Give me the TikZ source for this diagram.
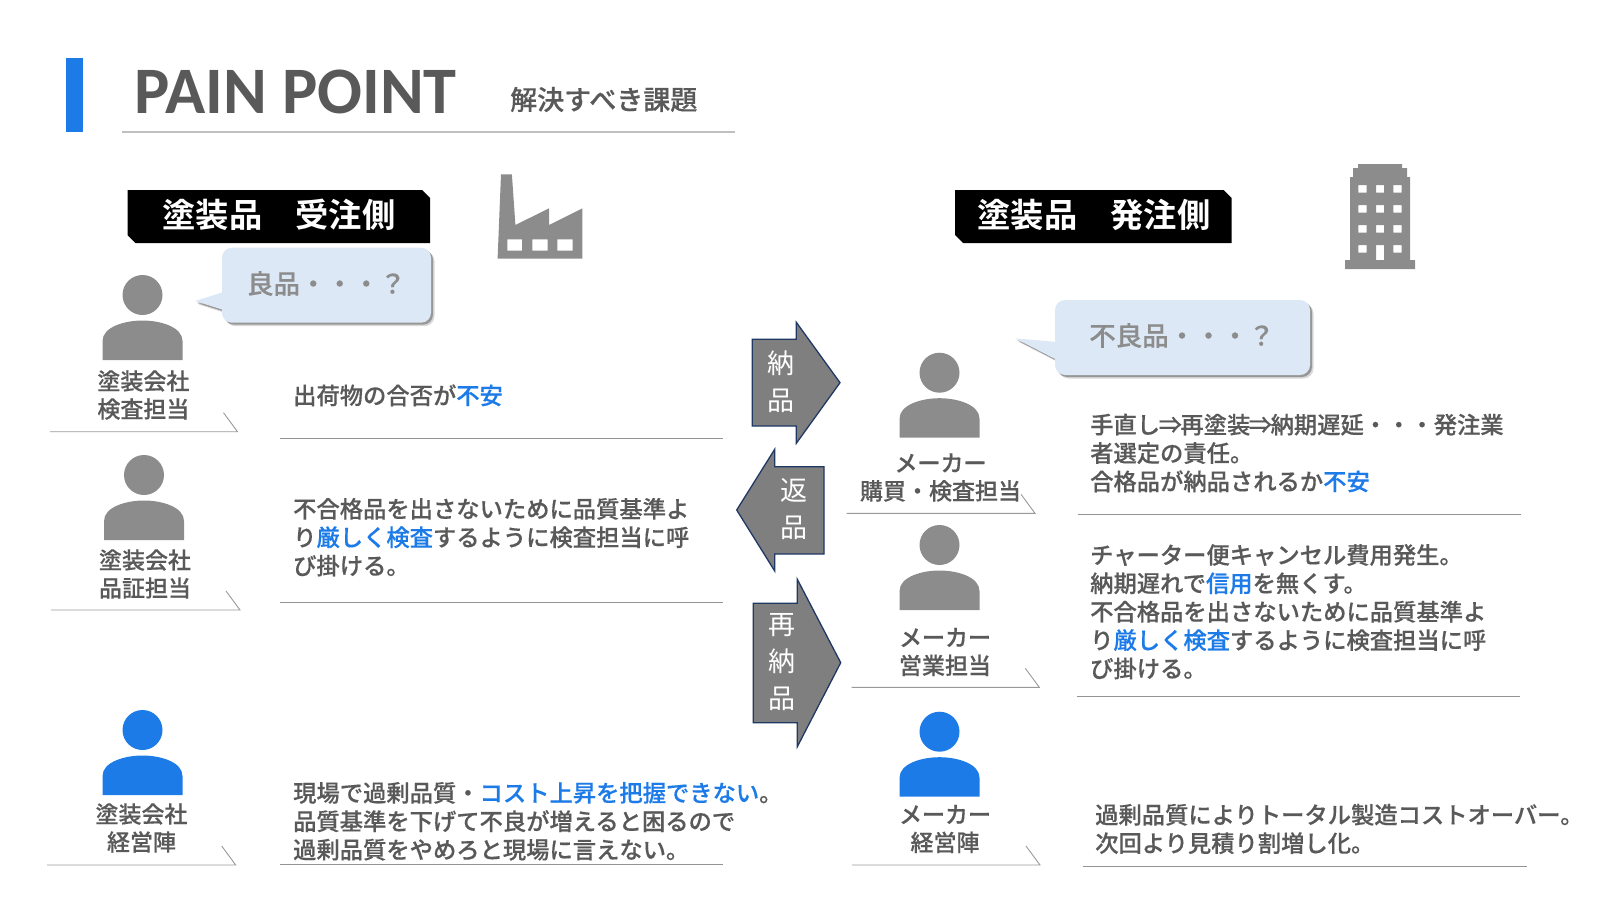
\documentclass[tikz,border=0pt]{standalone}
\usepackage{fontspec}
\usepackage{xcolor}
\usetikzlibrary{shadows}
\setmainfont{Noto Sans CJK JP Medium}[FakeBold=0.35]
\newfontfamily\jpreg{Noto Sans CJK JP}
\newfontfamily\jpbold{Noto Sans CJK JP Bold}
\newfontfamily\titlefont{Carlito Bold}
\definecolor{cBlue}{RGB}{29,123,232}
\definecolor{cText}{RGB}{89,89,89}
\definecolor{cIcon}{RGB}{140,140,140}
\definecolor{cCall}{RGB}{220,232,245}
\definecolor{cArrow}{RGB}{127,127,127}
\definecolor{cEdge}{RGB}{32,56,100}
\newcommand{\hl}[1]{{\color{cBlue}#1}}
\newcommand{\person}[3]{%
\fill[#3] (#1,#2+20) circle[radius=20];
\fill[#3] (#1-40,#2+85) -- (#1-40,#2+66) .. controls (#1-40,#2+52) and (#1-18,#2+45.5) .. (#1,#2+45.5) .. controls (#1+18,#2+45.5) and (#1+40,#2+52) .. (#1+40,#2+66) -- (#1+40,#2+85) -- cycle;
}
\newcommand{\tagline}[3]{%
\draw[gray!80,line width=0.9pt] (#1,#3) -- (#2,#3) -- (#2-14,#3-19);
}
\tikzset{
banner/.style={fill=black},
bannertext/.style={text=white,font=\jpbold\fontsize{33.3}{33.3}\selectfont,inner sep=0},
role/.style={text=cText,align=center,inner sep=0,font=\fontsize{23}{28}\selectfont},
body/.style={text=cText,align=left,anchor=west,inner sep=0,font=\fontsize{23.3}{28.4}\selectfont},
rule/.style={draw=gray!85,line width=1pt},
callbox/.style={fill=cCall,drop shadow={shadow xshift=3.5pt,shadow yshift=-3.5pt,fill=black,opacity=.15},drop shadow={shadow xshift=2pt,shadow yshift=-2pt,fill=black,opacity=.3}},
calltext/.style={text=cIcon,inner sep=0,font=\fontsize{26.5}{26.5}\selectfont},
flow/.style={fill=cArrow,draw=cEdge,line width=1.3pt,line join=miter},
flowtext/.style={text=white,align=center,inner sep=0,font=\jpreg\fontsize{27}{36.6}\selectfont}
}
\begin{document}
\begin{tikzpicture}[x=1pt,y=-1pt]
\useasboundingbox (0,0) rectangle (1600,900);
\fill[cBlue] (66,58) rectangle (83,132);
\node[anchor=west,inner sep=0,text=cText,font=\titlefont\fontsize{66.4}{66.4}\selectfont] (title) at (134.5,92) {PAIN POINT};
\node[anchor=west,inner sep=0,text=cText,font=\fontsize{27}{27}\selectfont] (subtitle) at (510,99.5) {解決すべき課題};
\draw[gray!50,line width=1.6pt] (122,132) -- (735,132);

\fill[banner] (127.5,190) -- (422,190) -- (430,198) -- (430,243) -- (135.5,243) -- (127.5,235) -- cycle;
\node[bannertext] (order) at (279,214.5) {塗装品　受注側};
\fill[banner] (955,190) -- (1223.5,190) -- (1231.5,198) -- (1231.5,243) -- (963,243) -- (955,235) -- cycle;
\node[bannertext] (buy) at (1094,214.5) {塗装品　発注側};

\fill[cIcon,even odd rule] (497.6,258.7) -- (501,174.3) -- (511.9,174.3) -- (515.4,225) -- (549,208.3) -- (549,225) -- (582.4,208.3) -- (582.4,258.7) -- cycle
(507.4,239.3) rectangle (522,250.7) (532.4,239.3) rectangle (547.6,250.7) (557.4,239.3) rectangle (572.6,250.7);
\fill[cIcon,even odd rule] (1345,269) -- (1345,260) -- (1350,260) -- (1350,177) -- (1353,177) -- (1353,168) -- (1358,168) -- (1358,164) -- (1402,164) -- (1402,168) -- (1407,168) -- (1407,177) -- (1410,177) -- (1410,260) -- (1415,260) -- (1415,269) -- cycle
(1358.3,185) rectangle (1366.7,192.7) (1376,185) rectangle (1384,192.7) (1393.3,185) rectangle (1401.7,192.7)
(1358.3,205) rectangle (1366.7,212.7) (1376,205) rectangle (1384,212.7) (1393.3,205) rectangle (1401.7,212.7)
(1358.3,225) rectangle (1366.7,232.7) (1376,225) rectangle (1384,232.7) (1393.3,225) rectangle (1401.7,232.7)
(1358.3,245) rectangle (1366.7,252.7) (1376,245) rectangle (1384,260) (1393.3,245) rectangle (1401.7,252.7);

\fill[callbox] (230,312) -- (195,301) -- (230,290) -- cycle;
\fill[callbox,rounded corners=10pt] (222,247.7) rectangle (431,322.7);
\node[calltext] (good) at (326.5,283.5) {良品・・・？};
\fill[callbox] (1065,364) -- (1015,338.3) -- (1065,342.7) -- cycle;
\fill[callbox,rounded corners=10pt] (1055,300) rectangle (1310,375);
\node[calltext] (bad) at (1182,335.5) {不良品・・・？};

\person{142.5}{275}{cIcon}
\person{144}{455}{cIcon}
\person{142.5}{710}{cBlue}
\person{939.5}{352.7}{cIcon}
\person{939.5}{525}{cIcon}
\person{939.5}{711.7}{cBlue}

\node[role] (inspect) at (143.4,395) {塗装会社\\検査担当};
\node[role] (quality) at (145,574) {塗装会社\\品証担当};
\node[role] (mgmt) at (141.5,828) {塗装会社\\経営陣};
\node[role] (buyer) at (940.5,477.5) {メーカー\\購買・検査担当};
\node[role] (sales) at (945,652) {メーカー\\営業担当};
\node[role] (makermgmt) at (945,829) {メーカー\\経営陣};
\tagline{49.8}{237.5}{431.7}
\tagline{51}{240}{610}
\tagline{47}{235.7}{865}
\tagline{846.7}{1035}{513.3}
\tagline{851.7}{1039.3}{687.3}
\tagline{852}{1040}{865}

\node[body] (t1) at (293,395.3) {出荷物の合否が\hl{不安}};
\draw[rule] (280,438.8) -- (723,438.8);
\node[body] (t2) at (293,537.2) {不合格品を出さないために品質基準よ\\り\hl{厳しく検査}するように検査担当に呼\\び掛ける。};
\draw[rule] (280,602) -- (723,602);
\node[body] (t3) at (293,821.3) {現場で過剰品質・\hl{コスト上昇を把握できない}。\\品質基準を下げて不良が増えると困るので\\過剰品質をやめろと現場に言えない。};
\draw[rule] (280,864.5) -- (723,864.5);
\node[body] (t4) at (1090,453) {手直し\kern-1.5pt⇒\kern-1.5pt再塗装\kern-1.5pt⇒\kern-1.5pt納期遅延・・・発注業\\者選定の責任。\\合格品が納品されるか\hl{不安}};
\draw[rule] (1077.6,514.3) -- (1521.4,514.3);
\node[body] (t5) at (1090,611.7) {チャーター便キャンセル費用発生。\\納期遅れで\hl{信用}を無くす。\\不合格品を出さないために品質基準よ\\り\hl{厳しく検査}するように検査担当に呼\\び掛ける。};
\draw[rule] (1076.6,696) -- (1520.4,696);
\node[body] (t6) at (1095,829) {過剰品質によりトータル製造コストオーバー。\\次回より見積り割増し化。};
\draw[rule] (1082.7,866) -- (1526.6,866);

\draw[flow] (752.3,339.3) -- (796.3,339.3) -- (796.3,322.3) -- (840,382.7) -- (796.3,443.3) -- (796.3,426) -- (752.3,426) -- cycle;
\node[flowtext] (deliver) at (780.5,381.5) {納\\品};
\draw[flow] (824,466.7) -- (774.7,466.7) -- (774.7,449.3) -- (736.7,510) -- (774.7,571) -- (774.7,554) -- (824,554) -- cycle;
\node[flowtext] (back) at (794.3,509) {返\\品};
\draw[flow] (753.3,603.3) -- (797.3,603.3) -- (797.3,579.3) -- (840.7,662.7) -- (797.3,746.7) -- (797.3,722.7) -- (753.3,722.7) -- cycle;
\node[flowtext] (again) at (781.7,662) {再\\納\\品};
\end{tikzpicture}
\end{document}
